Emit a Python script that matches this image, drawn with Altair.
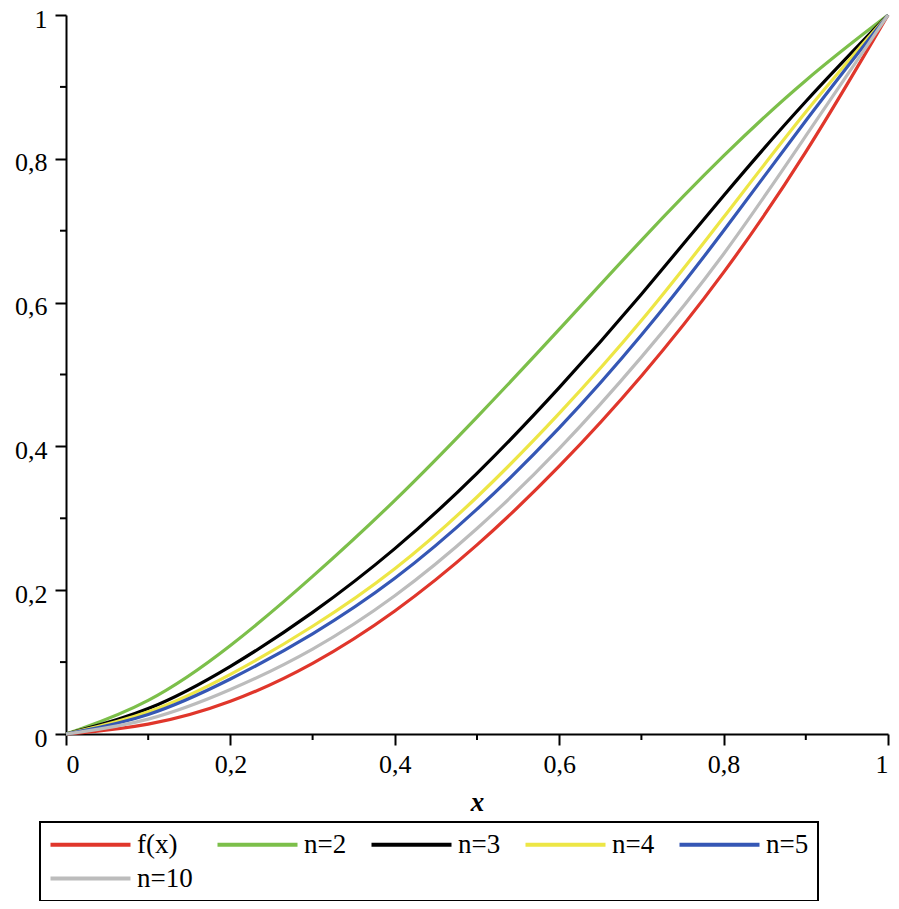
import altair as alt
import pandas as pd

x_vals = [0.0, 0.1, 0.2, 0.3, 0.4, 0.5, 0.6, 0.7, 0.8, 0.9, 1.0]

# curve values
f_x = [0.0, 0.010, 0.042, 0.095, 0.168, 0.260, 0.370, 0.495, 0.638, 0.805, 1.0]
n_2 = [0.0, 0.040, 0.120, 0.218, 0.323, 0.440, 0.562, 0.688, 0.806, 0.912, 1.0]
n_3 = [0.0, 0.030, 0.092, 0.167, 0.255, 0.360, 0.480, 0.610, 0.750, 0.882, 1.0]
n_4 = [0.0, 0.026, 0.081, 0.148, 0.226, 0.327, 0.444, 0.572, 0.718, 0.868, 1.0]
n_5 = [0.0, 0.022, 0.075, 0.137, 0.213, 0.310, 0.423, 0.552, 0.698, 0.855, 1.0]
n_10 = [0.0, 0.016, 0.060, 0.115, 0.189, 0.283, 0.394, 0.522, 0.663, 0.832, 1.0]

series_names = ["f(x)", "n=2", "n=3", "n=4", "n=5", "n=10"]
series_colors = ["#e0362b", "#7cbf4a", "#000000", "#ede645", "#3557b5", "#bcbcbc"]

major_ticks = [0, 0.2, 0.4, 0.6, 0.8, 1]
minor_ticks = [0.1, 0.3, 0.5, 0.7, 0.9]

rows = []
for name, ys in zip(series_names, [f_x, n_2, n_3, n_4, n_5, n_10]):
    for xv, yv in zip(x_vals, ys):
        rows.append({"series": name, "x": xv, "y": yv})
df = pd.DataFrame(rows)

W, H = 822, 719
FONT = "Liberation Serif"
label_expr = "replace(format(datum.value, '~g'), '.', ',')"

x_axis = alt.Axis(values=major_ticks, title="x", labelExpr=label_expr,
                  grid=False, tickSize=11, tickWidth=2, tickColor="black",
                  domainColor="black", domainWidth=2, labelFont=FONT,
                  labelFontSize=26, labelColor="black", labelPadding=6,
                  titleFont=FONT, titleFontSize=27, titleFontStyle="italic",
                  titleFontWeight="bold", titleColor="black", titlePadding=12)
y_axis = alt.Axis(values=major_ticks, title=None, labelExpr=label_expr,
                  grid=False, tickSize=11, tickWidth=2, tickColor="black",
                  domainColor="black", domainWidth=2, labelFont=FONT,
                  labelFontSize=26, labelColor="black", labelPadding=8,
                  labelOffset=4)

lines = alt.Chart(df).mark_line(interpolate="basis", strokeWidth=3.2).encode(
    x=alt.X("x:Q", scale=alt.Scale(domain=[0, 1], nice=False, zero=False), axis=x_axis),
    y=alt.Y("y:Q", scale=alt.Scale(domain=[0, 1], nice=False, zero=False), axis=y_axis),
    color=alt.Color("series:N", sort=series_names,
                    scale=alt.Scale(domain=series_names, range=series_colors),
                    legend=alt.Legend(orient="none", legendX=-26, legendY=807,
                                      direction="horizontal", columns=5,
                                      title=None, symbolType="M-4,0H4",
                                      symbolSize=400, symbolStrokeWidth=4,
                                      symbolOffset=28,
                                      labelFont=FONT, labelFontSize=27,
                                      labelColor="black", labelOffset=33,
                                      strokeColor="black", padding=9,
                                      columnPadding=16, rowPadding=6,
                                      gridAlign="each")),
)

minor_x = alt.Chart(pd.DataFrame({"x": minor_ticks})).mark_rule(
    color="black", strokeWidth=2).encode(
    x=alt.X("x:Q"), y=alt.value(H), y2=alt.value(H + 6))
minor_y = alt.Chart(pd.DataFrame({"y": minor_ticks})).mark_rule(
    color="black", strokeWidth=2).encode(
    y=alt.Y("y:Q"), x=alt.value(0), x2=alt.value(-6))

chart = alt.layer(lines, minor_x, minor_y).properties(
    width=W, height=H,
    autosize=alt.AutoSizeParams(type="none"),
    padding={"left": 58, "top": 7, "right": 3, "bottom": 167},
).configure_view(stroke=None).configure_legend(strokeWidth=2)

chart.save("out.html", embed_options={"renderer": "svg", "actions": False})
